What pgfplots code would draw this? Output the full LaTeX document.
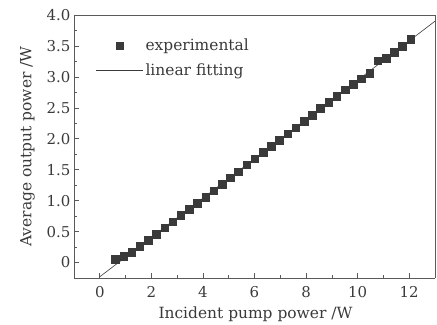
\documentclass[border=0pt]{standalone}
\usepackage{fontspec}
\setmainfont{DejaVu Serif}
\usepackage{pgfplots}
\pgfplotsset{compat=1.18}
\definecolor{ink}{HTML}{3A3A3A}
\definecolor{axc}{HTML}{5A5A5A}
\pgfplotsset{
  legmark/.style={legend image code/.code={\draw[##1] plot coordinates {(23.5bp,0bp)};}},
  legline/.style={legend image code/.code={\draw[##1] (0bp,0bp) -- (47bp,0bp);}},
}
\begin{document}
\begin{tikzpicture}
\begin{axis}[
  name=ax,
  scale only axis,
  width=361bp, height=263bp,
  xmin=-1, xmax=13, ymin=-0.25, ymax=4.0,
  xtick={0,2,4,6,8,10,12},
  ytick={0,0.5,1.0,1.5,2.0,2.5,3.0,3.5,4.0},
  yticklabels={0,0.5,1.0,1.5,2.0,2.5,3.0,3.5,4.0},
  minor x tick num=1, minor y tick num=1,
  axis x line*=bottom, axis y line*=left,
  tick align=inside,
  major tick length=5bp, minor tick length=3bp,
  every tick/.style={axc, line width=0.6pt},
  axis line style={axc, line width=0.8pt},
  /pgf/number format/assume math mode=true,
  tick label style={font=\fontsize{15}{18}\selectfont, text=ink},
  label style={font=\fontsize{15.5}{18}\selectfont, text=ink},
  xlabel={Incident pump power /W},
  ylabel={Average output power /W},
  xticklabel style={yshift=-5bp},
  xlabel style={at={(rel axis cs:0.5,0)}, anchor=center, yshift=-36bp, xshift=1bp},
  ylabel style={yshift=5bp},
  legend style={at={(0.052,0.925)}, anchor=north west, draw=none, fill=none,
    font=\fontsize{15.5}{18}\selectfont, text=ink, row sep=8bp,
    /tikz/every even column/.append style={column sep=2bp}},
  legend cell align=left,
  clip=false,
]
\draw[axc, line width=0.8pt] (rel axis cs:0,1) -- (rel axis cs:1,1) -- (rel axis cs:1,0);
\addplot[only marks, mark=square*, mark size=3.8bp, ink, mark options={fill=ink, draw=ink}, legmark]
coordinates {
(0.60,0.05)(0.92,0.10)(1.24,0.17)(1.55,0.26)(1.87,0.36)(2.19,0.46)(2.51,0.56)(2.83,0.66)
(3.14,0.76)(3.46,0.86)(3.78,0.96)(4.10,1.06)(4.42,1.16)(4.74,1.27)(5.05,1.37)(5.37,1.47)
(5.69,1.58)(6.01,1.68)(6.33,1.78)(6.64,1.88)(6.96,1.98)(7.28,2.08)(7.60,2.18)(7.92,2.28)
(8.23,2.38)(8.55,2.49)(8.87,2.59)(9.19,2.69)(9.51,2.79)(9.82,2.88)(10.14,2.97)(10.46,3.06)
(10.78,3.26)(11.10,3.30)(11.41,3.40)(11.73,3.50)(12.05,3.61)
};
\addlegendentry{experimental}
\addplot[ink, line width=0.6pt, legline]
coordinates {(0,-0.23)(13,3.90)};
\addlegendentry{linear fitting}
\end{axis}
\path (ax.south west) ++(-74bp,-47bp) coordinate (bl);
\path (ax.north east) ++(2bp,15bp) coordinate (tr);
\path (bl) rectangle (tr);
\end{tikzpicture}
\end{document}
